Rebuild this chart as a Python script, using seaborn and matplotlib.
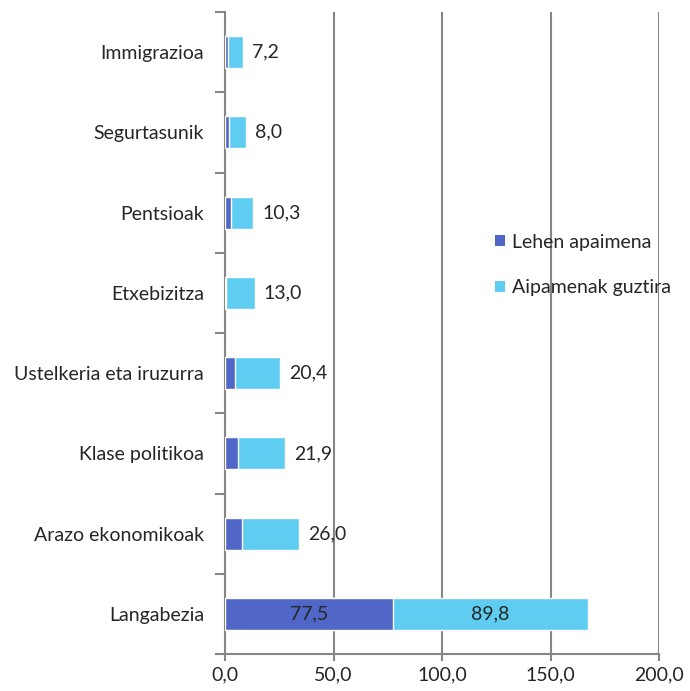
import matplotlib
matplotlib.use("Agg")
import matplotlib.pyplot as plt
import seaborn as sns
import pandas as pd
from matplotlib.patches import Patch
from matplotlib.ticker import FixedLocator

categories = ["Immigrazioa", "Segurtasunik", "Pentsioak", "Etxebizitza",
              "Ustelkeria eta iruzurra", "Klase politikoa", "Arazo ekonomikoak", "Langabezia"]
lehen = [1.2, 1.8, 2.8, 0.6, 4.8, 5.8, 8.0, 77.5]
guztira = [7.2, 8.0, 10.3, 13.0, 20.4, 21.9, 26.0, 89.8]
x_ticks = [0, 50, 100, 150, 200]
x_ticklabels = ["0,0", "50,0", "100,0", "150,0", "200,0"]
series_names = ["Lehen apaimena", "Aipamenak guztira"]

dark = "#5067C8"
light = "#5FCDF2"
grid_c = "#868686"

sns.set_style("white")
plt.rcParams["font.family"] = ["Lato", "DejaVu Sans"]
FS = 14

df = pd.DataFrame({"cat": categories, "lehen": lehen, "guztira": guztira})
df["total"] = df["lehen"] + df["guztira"]

fig = plt.figure(figsize=(6.9, 6.91), dpi=100)
ax = fig.add_axes([225/690, 1-654/691, (659-225)/690, (654-12)/691])

sns.barplot(data=df, y="cat", x="total", order=categories, color=light,
            width=0.4, saturation=1, ax=ax, orient="h", zorder=3)
sns.barplot(data=df, y="cat", x="lehen", order=categories, color=dark,
            width=0.4, saturation=1, ax=ax, orient="h", zorder=4)

ax.set_xlim(0, 200)
ax.set_ylim(len(categories) - 0.5, -0.5)
ax.set_xlabel("")
ax.set_ylabel("")

ax.set_xticks(x_ticks)
ax.set_xticklabels(x_ticklabels, fontsize=FS)
ax.xaxis.grid(True, color=grid_c, linewidth=1.5, zorder=0)
ax.set_axisbelow(True)

ax.set_yticks(range(len(categories)))
ax.set_yticklabels(categories, fontsize=FS)
ax.yaxis.set_minor_locator(FixedLocator([i - 0.5 for i in range(len(categories) + 1)]))
ax.tick_params(axis="y", which="major", length=0, pad=15)
ax.tick_params(axis="y", which="minor", length=7, width=1.5, color=grid_c, left=True)
ax.tick_params(axis="x", which="major", length=5, width=1.5, color=grid_c, bottom=True, pad=4)

for s in ["top", "right"]:
    ax.spines[s].set_visible(False)
for s in ["left", "bottom"]:
    ax.spines[s].set_color(grid_c)
    ax.spines[s].set_linewidth(1.5)

def fmt(v):
    return f"{v:.1f}".replace(".", ",")

for i, (l, g) in enumerate(zip(lehen, guztira)):
    if l > 30:
        ax.text(l / 2, i, fmt(l), ha="center", va="center", fontsize=FS, zorder=5)
        ax.text(l + g / 2, i, fmt(g), ha="center", va="center", fontsize=FS, zorder=5)
    else:
        ax.annotate(fmt(g), xy=(l + g, i), xytext=(6.5, 0), textcoords="offset points",
                    ha="left", va="center", fontsize=FS, zorder=5)

handles = [Patch(facecolor=dark, edgecolor="none"), Patch(facecolor=light, edgecolor="none")]
fig.legend(handles, series_names, loc="center left", bbox_to_anchor=(495/690, 1-265/691),
           frameon=False, fontsize=FS, handlelength=0.52, handleheight=0.52,
           handletextpad=0.36, labelspacing=1.47, borderpad=0, borderaxespad=0)

fig.savefig("out.png", dpi=100)
